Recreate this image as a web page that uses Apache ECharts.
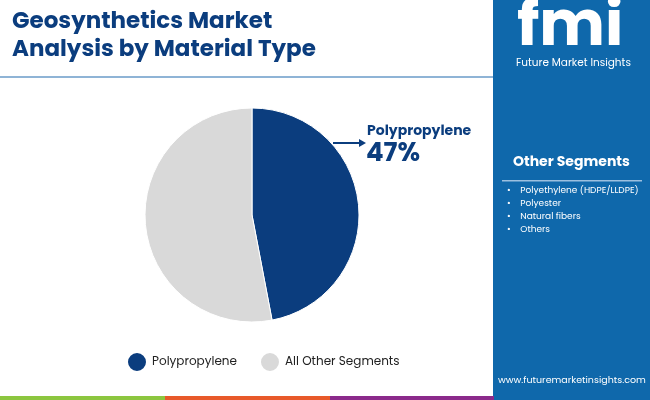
<!DOCTYPE html><html><head><meta charset="utf-8"><script src="https://cdn.jsdelivr.net/npm/echarts@6/dist/echarts.min.js"></script>
<style>html,body{margin:0;padding:0}#c{width:650px;height:400px}</style></head><body><div id="c"></div><script>
const categories=['Polypropylene','All Other Segments'];
const values=[47,53];
const otherSegments=['Polyethylene (HDPE/LLDPE)','Polyester','Natural fibers','Others'];
const F='Poppins, "Open Sans", Lato, sans-serif';
const ch=echarts.init(document.getElementById('c'));
const g=[
 {type:'rect',shape:{x:493,y:0,width:157,height:400},style:{fill:'#0f68ab'}},
 {type:'rect',shape:{x:0,y:76,width:493,height:2},style:{fill:'#8fb4d6'}},
 {type:'rect',shape:{x:0,y:396,width:165,height:4},style:{fill:'#8cc63f'}},
 {type:'rect',shape:{x:165,y:396,width:165,height:4},style:{fill:'#e8592a'}},
 {type:'rect',shape:{x:330,y:396,width:164,height:4},style:{fill:'#8b2a8b'}},
 {type:'text',left:12,top:8,style:{text:'Geosynthetics Market\nAnalysis by Material Type',fill:'#0b3d7e',font:'bold 23px '+F,lineHeight:28}},
 {type:'text',left:517,top:-2,style:{text:'fmi',fill:'#fff',font:'bold 62px '+F}},
 {type:'text',left:516,top:58,style:{text:'Future Market Insights',fill:'#fff',font:'10.5px '+F}},
 {type:'text',left:513,top:155,style:{text:'Other Segments',fill:'#fff',font:'bold 14px '+F}},
 {type:'rect',shape:{x:502,y:180,width:140,height:1.5},style:{fill:'#9cc0e0'}},
 {type:'text',left:498,top:376,style:{text:'www.futuremarketinsights.com',fill:'#fff',font:'9.5px '+F}},
 {type:'line',shape:{x1:333,y1:143,x2:362,y2:143},style:{stroke:'#0b3d7e',lineWidth:2}},
 {type:'polygon',shape:{points:[[366,143],[359,139],[359,147]]},style:{fill:'#0b3d7e'}},
 {type:'text',left:367,top:124,style:{text:categories[0],fill:'#0b3d7e',font:'bold 14px '+F}},
 {type:'text',left:366,top:141,style:{text:values[0]+'%',fill:'#0b3d7e',font:'bold 26px '+F}}
];
otherSegments.forEach((s,i)=>{g.push({type:'text',left:507,top:186+i*13,style:{text:'•    '+s,fill:'#fff',font:'9px '+F}});});
ch.setOption({
 animation:false,
 legend:{top:346,left:121,itemGap:22,icon:'circle',itemWidth:20,itemHeight:20,textStyle:{fontSize:12,color:'#222',fontFamily:F},data:categories},
 series:[{type:'pie',center:[252,215],radius:[0,107],startAngle:90,clockwise:true,label:{show:false},labelLine:{show:false},
  itemStyle:{borderColor:'#fff',borderWidth:1},
  data:categories.map((c,i)=>({name:c,value:values[i],itemStyle:{color:['#0b3d7e','#d9d9d9'][i]}}))}],
 graphic:g
});
</script></body></html>
